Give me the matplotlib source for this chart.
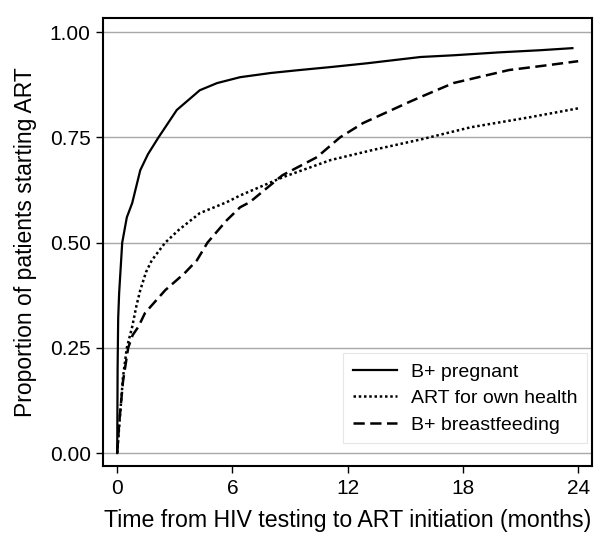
import numpy as np
import matplotlib
matplotlib.use('Agg')
import matplotlib.pyplot as plt

plt.rcParams['font.family'] = ['Liberation Sans', 'DejaVu Sans']

# B+ pregnant (solid)
t_preg = [0, 0.02, 0.05, 0.1, 0.26, 0.5, 0.78, 1.2, 1.6, 2.15, 3.1, 4.3, 5.2, 6.4, 8, 9.5, 11.1, 13, 15.8, 17.5, 19.9, 22, 23.7]
p_preg = [0, 0.2, 0.32, 0.38, 0.5, 0.56, 0.594, 0.672, 0.71, 0.75, 0.815, 0.862, 0.879, 0.893, 0.903, 0.91, 0.917, 0.926, 0.941, 0.945, 0.952, 0.957, 0.962]

# ART for own health (dotted)
t_own = [0, 0.05, 0.1, 0.3, 0.5, 0.78, 1.0, 1.2, 1.5, 1.8, 2.5, 3.2, 4.3, 5.7, 6.4, 8.6, 11.1, 13.3, 15.8, 18.4, 21.5, 24]
p_own = [0, 0.03, 0.062, 0.18, 0.25, 0.30, 0.35, 0.387, 0.43, 0.458, 0.5, 0.53, 0.57, 0.596, 0.612, 0.655, 0.696, 0.72, 0.745, 0.774, 0.798, 0.819]

# B+ breastfeeding (dashed)
t_bf = [0, 0.1, 0.3, 0.57, 0.8, 1.1, 1.45, 2.5, 3.5, 4.15, 4.7, 5.7, 6.4, 6.9, 8.6, 10.4, 11.6, 12.8, 15.2, 15.8, 17.5, 20.4, 22.5, 24]
p_bf = [0, 0.07, 0.17, 0.25, 0.28, 0.30, 0.333, 0.387, 0.427, 0.458, 0.5, 0.553, 0.584, 0.596, 0.66, 0.703, 0.75, 0.784, 0.834, 0.846, 0.879, 0.91, 0.922, 0.931]

xticks = [0, 6, 12, 18, 24]
yticks = [0.0, 0.25, 0.5, 0.75, 1.0]
ytick_labels = ['0.00', '0.25', '0.50', '0.75', '1.00']

fig = plt.figure(figsize=(6, 5.37), dpi=100)
ax = fig.add_axes([0.172, 0.132, 0.815, 0.834])

for y in yticks:
    ax.axhline(y, color='#a8a8a8', lw=1.0, zorder=0)

ax.plot(t_preg, p_preg, color='black', lw=1.6, ls='-', label='B+ pregnant')
ax.plot(t_own, p_own, color='black', lw=1.8, ls=(0, (1, 1.1)), label='ART for own health')
ax.plot(t_bf, p_bf, color='black', lw=1.8, ls=(0, (4.5, 2.2)), label='B+ breastfeeding')

ax.set_xlim(-0.73, 24.73)
ax.set_ylim(-0.031, 1.033)
ax.set_xticks(xticks)
ax.set_yticks(yticks)
ax.set_yticklabels(ytick_labels)
ax.tick_params(direction='out', length=5, width=1, labelsize=15, colors='black', pad=4)
for s in ax.spines.values():
    s.set_linewidth(1.5)

ax.set_xlabel('Time from HIV testing to ART initiation (months)', fontsize=16.7, labelpad=8)
ax.set_ylabel('Proportion of patients starting ART', fontsize=16.5, labelpad=9)

leg = ax.legend(loc='lower right', bbox_to_anchor=(0.99, 0.051), fontsize=14,
                frameon=True, fancybox=False, edgecolor='#e6e6e6', framealpha=1,
                handlelength=2.3, handletextpad=0.7, labelspacing=0.45, borderpad=0.5,
                borderaxespad=0)
leg.get_frame().set_linewidth(0.8)

fig.savefig('out.png', dpi=100)
